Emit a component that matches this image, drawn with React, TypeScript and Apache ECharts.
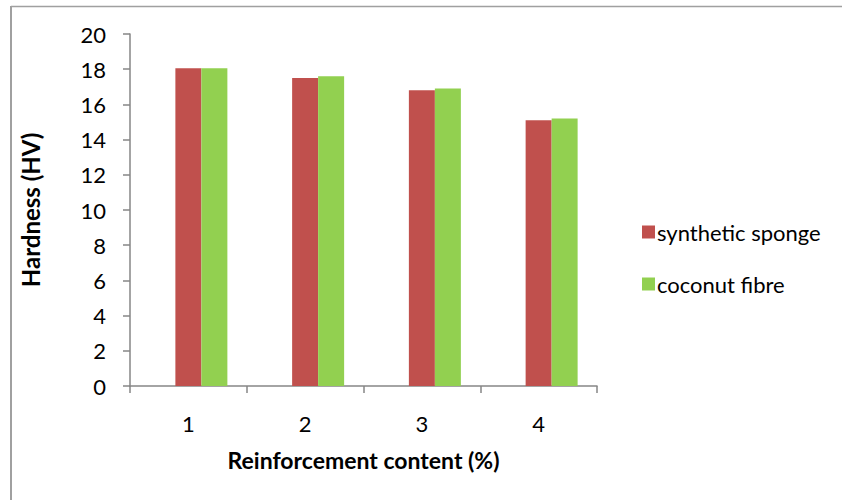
import React, { useEffect, useRef } from "react";
import * as echarts from "echarts";

const categories = ["1", "2", "3", "4"];
const syntheticSponge = [18.05, 17.5, 16.8, 15.1];
const coconutFibre = [18.05, 17.6, 16.9, 15.2];
const placeholder = [null, null, null, null];
const seriesNames = ["synthetic sponge", "coconut fibre"];

const FONT = "Lato, 'Open Sans', sans-serif";

export default function App() {
  const ref = useRef<HTMLDivElement>(null);
  useEffect(() => {
    if (!ref.current) return;
    const chart = echarts.init(ref.current, undefined, { renderer: "svg" });
    chart.setOption({
      animation: false,
      backgroundColor: "#ffffff",
      textStyle: { fontFamily: FONT },
      grid: { left: 130, right: 245, top: 34, bottom: 114, containLabel: false },
      legend: {
        orient: "vertical",
        left: 637,
        top: 216,
        itemWidth: 13,
        itemHeight: 13,
        itemGap: 30,
        icon: "rect",
        textStyle: { fontFamily: FONT, fontSize: 22, color: "#000", padding: [0, 0, 0, -3] },
        data: seriesNames,
      },
      xAxis: {
        type: "category",
        data: categories,
        name: "Reinforcement content (%)",
        nameLocation: "middle",
        nameGap: 62,
        nameTextStyle: { fontFamily: FONT, fontSize: 23, fontWeight: "bold", color: "#000" },
        axisLine: { lineStyle: { color: "#868686", width: 1.5 } },
        axisTick: { show: true, length: 7, inside: false, lineStyle: { color: "#868686", width: 1.5 } },
        axisLabel: { fontFamily: FONT, fontSize: 22, color: "#000", margin: 26 },
      },
      yAxis: {
        type: "value",
        min: 0,
        max: 20,
        interval: 2,
        name: "Hardness (HV)",
        nameLocation: "middle",
        nameGap: 88,
        nameRotate: 90,
        nameTextStyle: { fontFamily: FONT, fontSize: 24, fontWeight: "bold", color: "#000" },
        axisLine: { show: true, lineStyle: { color: "#868686", width: 1.5 } },
        axisTick: { show: true, length: 7, lineStyle: { color: "#868686", width: 1.5 } },
        axisLabel: { fontFamily: FONT, fontSize: 22, color: "#000", margin: 24 },
        splitLine: { show: false },
      },
      series: [
        {
          name: "",
          type: "bar",
          data: placeholder,
          barWidth: 26,
          barGap: "0%",
          silent: true,
        },
        {
          name: seriesNames[0],
          type: "bar",
          data: syntheticSponge,
          barWidth: 26,
          barGap: "0%",
          itemStyle: { color: "#C0504D" },
        },
        {
          name: seriesNames[1],
          type: "bar",
          data: coconutFibre,
          barWidth: 26,
          barGap: "0%",
          itemStyle: { color: "#92D050" },
        },
      ],
      graphic: [
        {
          type: "line",
          shape: { x1: 11, y1: 6.5, x2: 842, y2: 6.5 },
          style: { stroke: "#a0a0a0", lineWidth: 1.5 },
        },
        {
          type: "line",
          shape: { x1: 11, y1: 6, x2: 11, y2: 500 },
          style: { stroke: "#a0a0a0", lineWidth: 2 },
        },
      ],
    });
    return () => chart.dispose();
  }, []);
  return (
    <div
      ref={ref}
      style={{ width: 842, height: 500, position: "fixed", left: 0, top: 0 }}
    />
  );
}
